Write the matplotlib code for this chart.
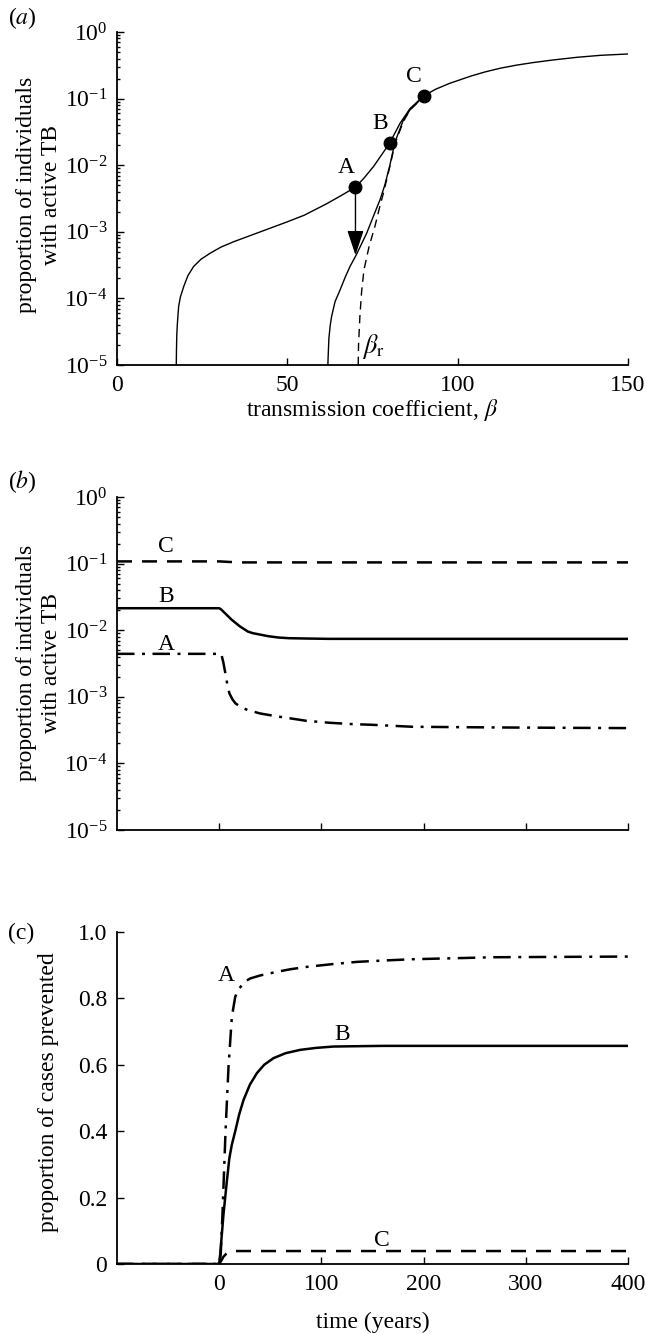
import numpy as np
import matplotlib
matplotlib.use("Agg")
import matplotlib.pyplot as plt

plt.rcParams['font.family'] = ['Liberation Serif', 'DejaVu Serif']
plt.rcParams['mathtext.fontset'] = 'stix'
plt.rcParams['font.size'] = 17

# ---- panel (a): equilibrium prevalence vs transmission coefficient (log10 values)
beta_upper = [17.4, 17.45, 17.55, 17.7, 17.9, 18.1, 18.6, 19.6, 20.8, 22.5, 24.7, 27.4, 30.5,
              34.2, 42.1, 50, 55, 61.5, 66, 70, 72.4, 75.3, 78, 80, 83.1, 86, 90, 93.5, 97.7,
              104, 108, 112.4, 117, 122, 128, 135, 142, 150]
logp_upper = [-5.0, -4.8, -4.55, -4.4, -4.25, -4.12, -3.98, -3.82, -3.66, -3.52, -3.41, -3.32,
              -3.23, -3.15, -3.0, -2.85, -2.75, -2.58, -2.45, -2.33, -2.20, -2.02, -1.82,
              -1.67, -1.37, -1.15, -0.96, -0.86, -0.77, -0.66, -0.6, -0.545, -0.5, -0.46,
              -0.42, -0.38, -0.35, -0.33]
beta_lower = [61.9, 62.0, 62.2, 62.6, 63.0, 64.0, 65.5, 67.0, 68.4, 70.2, 73.3, 75.0, 77.2,
              78.6, 80.1, 81.6, 84, 86, 88, 90]
logp_lower = [-5.0, -4.85, -4.6, -4.4, -4.27, -4.05, -3.87, -3.68, -3.52, -3.35, -3.02, -2.8,
              -2.52, -2.3, -2.0, -1.65, -1.33, -1.17, -1.07, -0.96]
beta_dash = [70.8, 70.9, 71.3, 71.8, 72.5, 74, 75.7, 77, 78.2, 80.1, 81.6, 84, 86, 88, 90]
logp_dash = [-5.0, -4.7, -4.27, -3.9, -3.57, -3.22, -2.92, -2.65, -2.42, -2.02, -1.68,
             -1.35, -1.17, -1.07, -0.96]
pts_beta = [70, 80, 90]
pts_logp = [-2.33, -1.67, -0.96]
pts_names = ['A', 'B', 'C']
arrow_end_logp = -3.35

# ---- panel (b): prevalence over time (log10 values)
tB = [-100, 0, 2, 4, 8, 12, 16, 20, 24, 28, 33, 38, 48, 58, 68, 85, 108, 150, 200, 300, 400]
logB = [-1.67, -1.67, -1.69, -1.72, -1.78, -1.84, -1.89, -1.94, -1.98, -2.02, -2.045, -2.06,
        -2.09, -2.11, -2.12, -2.125, -2.13, -2.13, -2.13, -2.13, -2.13]
tA = [-100, 2, 4, 6, 8, 10, 13, 16, 22, 28, 40, 55, 68, 85, 108, 130, 149, 189, 230, 269,
      330, 400]
logA = [-2.355, -2.355, -2.48, -2.645, -2.82, -2.95, -3.04, -3.10, -3.16, -3.20, -3.25, -3.29,
        -3.32, -3.36, -3.39, -3.41, -3.42, -3.45, -3.455, -3.46, -3.465, -3.47]
tC = [-100, 0, 10, 20, 400]
logC = [-0.967, -0.967, -0.975, -0.982, -0.982]

# ---- panel (c): proportion of cases prevented
cA_t = [-100, 0, 1.5, 3.2, 6.2, 9.1, 12.4, 15.7, 18.5, 22.2, 26, 30.3, 40, 56.4, 70, 85.8,
        110, 134.7, 160, 189, 230, 269, 330, 400]
cA_v = [0, 0, 0.03, 0.15, 0.40, 0.594, 0.745, 0.805, 0.825, 0.84, 0.852, 0.86, 0.869, 0.88,
        0.888, 0.895, 0.903, 0.91, 0.914, 0.918, 0.921, 0.924, 0.925, 0.926]
cB_t = [-100, 0, 1, 4.2, 7.5, 10, 12.4, 15.7, 19.5, 23.8, 30, 36.9, 44, 53.1, 65, 79.3, 95,
        111.8, 135, 160, 400]
cB_v = [0, 0, 0.03, 0.15, 0.25, 0.32, 0.36, 0.40, 0.45, 0.494, 0.54, 0.575, 0.60, 0.62,
        0.635, 0.645, 0.651, 0.655, 0.656, 0.657, 0.657]
cC_t = [-100, 0, 2, 4.2, 7, 10.8, 14, 400]
cC_v = [0, 0, 0.01, 0.022, 0.031, 0.037, 0.039, 0.039]

dashdot = (0, (7, 3, 1.2, 3))
dashed = (0, (6, 4))

fig = plt.figure(figsize=(6.46, 13.34), dpi=100)
L, W = 117 / 646, 511 / 646
axa = fig.add_axes([L, 1 - 365 / 1334, W, 333 / 1334])
axb = fig.add_axes([L, 1 - 830 / 1334, W, 333 / 1334])
axc = fig.add_axes([L, 1 - 1264 / 1334, W, 332 / 1334])

for ax in (axa, axb, axc):
    for s in ('top', 'right'):
        ax.spines[s].set_visible(False)
    for s in ('left', 'bottom'):
        ax.spines[s].set_linewidth(1.3)
    ax.tick_params(which='both', direction='in', width=1.0)
    ax.tick_params(which='major', length=5, labelsize=17, pad=7)
    ax.tick_params(which='minor', length=2.5)

# (a)
axa.plot(beta_upper, 10 ** np.array(logp_upper), color='black', lw=1.0)
axa.plot(beta_lower, 10 ** np.array(logp_lower), color='black', lw=1.0)
axa.plot(beta_dash, 10 ** np.array(logp_dash), color='black', lw=1.0, linestyle=(0, (6, 4)))
axa.plot(pts_beta, 10 ** np.array(pts_logp), 'o', color='black', markersize=9, zorder=5)
for b, lp, n in zip(pts_beta, pts_logp, pts_names):
    axa.text(b - 2.8, 10 ** (lp + 0.29), n, fontsize=17, ha='center', va='center')
axa.annotate('', xy=(70, 10 ** arrow_end_logp), xytext=(70, 10 ** pts_logp[0]),
             arrowprops=dict(arrowstyle='-|>,head_length=0.9,head_width=0.3', color='black',
                             lw=1.0, shrinkA=0, shrinkB=0))
axa.text(72, 10 ** -4.72, r'$\beta_\mathrm{r}$', fontsize=19, ha='left', va='center')
axa.set_yscale('log')
axa.set_ylim(1e-5, 1)
axa.set_xlim(0, 150)
axa.set_xticks([0, 50, 100, 150])
axa.set_yticks([1e-5, 1e-4, 1e-3, 1e-2, 1e-1, 1])
axa.set_xlabel(r'transmission coefficient, $\beta$', fontsize=17, labelpad=1)

# (b)
axb.plot(tC, 10 ** np.array(logC), color='black', lw=1.8, linestyle=dashed)
axb.plot(tB, 10 ** np.array(logB), color='black', lw=1.8)
axb.plot(tA, 10 ** np.array(logA), color='black', lw=1.8, linestyle=dashdot)
axb.text(-52, 10 ** -0.74, 'C', fontsize=17, ha='center', va='center')
axb.text(-52, 10 ** -1.49, 'B', fontsize=17, ha='center', va='center')
axb.text(-52, 10 ** -2.22, 'A', fontsize=17, ha='center', va='center')
axb.set_yscale('log')
axb.set_ylim(1e-5, 1)
axb.set_xlim(-100, 400)
axb.set_xticks([0, 100, 200, 300, 400])
axb.set_xticklabels([])
axb.set_yticks([1e-5, 1e-4, 1e-3, 1e-2, 1e-1, 1])

# (c)
axc.plot(cA_t, cA_v, color='black', lw=1.8, linestyle=dashdot)
axc.plot(cB_t, cB_v, color='black', lw=1.8)
axc.plot(cC_t, cC_v, color='black', lw=1.8, linestyle=dashed)
axc.text(7, 0.87, 'A', fontsize=17, ha='center', va='center')
axc.text(120, 0.69, 'B', fontsize=17, ha='center', va='center')
axc.text(159, 0.072, 'C', fontsize=17, ha='center', va='center')
axc.set_xlim(-100, 400)
axc.set_ylim(0, 1.0)
axc.set_xticks([0, 100, 200, 300, 400])
axc.set_yticks([0, 0.2, 0.4, 0.6, 0.8, 1.0])
axc.set_yticklabels(['0', '0.2', '0.4', '0.6', '0.8', '1.0'])
axc.set_xlabel('time (years)', fontsize=17, labelpad=12)

# y labels and panel letters
ylab = 'proportion of individuals\nwith active TB'
fig.text(39 / 646, 1 - 195 / 1334, ylab, rotation=90, ha='center', va='center',
         multialignment='center', fontsize=17, linespacing=1.2)
fig.text(39 / 646, 1 - 663 / 1334, ylab, rotation=90, ha='center', va='center',
         multialignment='center', fontsize=17, linespacing=1.2)
fig.text(49 / 646, 1 - 1092 / 1334, 'proportion of cases prevented', rotation=90,
         ha='center', va='center', fontsize=17)
fig.text(0.012, 1 - 18 / 1334, r'($\mathit{a}$)', fontsize=17, ha='left', va='center')
fig.text(0.012, 1 - 482 / 1334, r'($\mathit{b}$)', fontsize=17, ha='left', va='center')
fig.text(0.012, 1 - 933 / 1334, '(c)', fontsize=17, ha='left', va='center')

fig.savefig('out.png', dpi=100)
